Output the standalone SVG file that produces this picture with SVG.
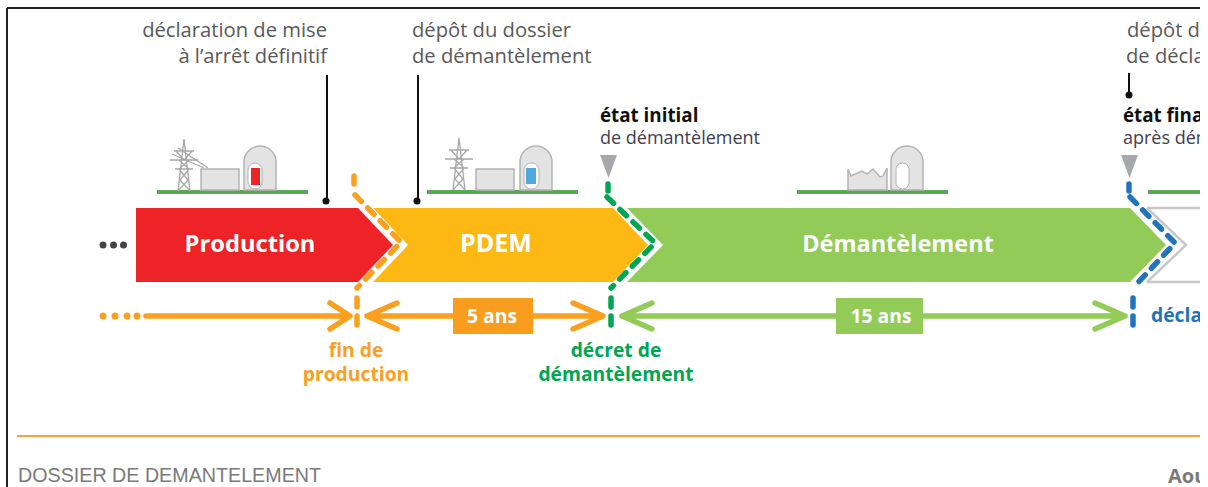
<svg xmlns="http://www.w3.org/2000/svg" width="1208" height="487" viewBox="0 0 1208 487">
<style>
text{font-family:"Open Sans","Noto Sans","Liberation Sans",sans-serif}
.t{font-size:20.200px;fill:#595959}
.b{font-size:18.800px;font-weight:700;fill:#111}
.s{font-size:18px;fill:#404050}
.w{font-weight:700;fill:#fff}
.g{stroke:#b4b4b4;stroke-width:1.5;fill:#e3e3e3}
.tw{stroke:#a8a8a8;stroke-width:1.3;fill:none}
.ground{fill:#57a957}
.lead{stroke:#111;stroke-width:2;fill:none}
.d{fill:none;stroke-width:5.5;stroke-linecap:round;stroke-linejoin:round;stroke-dasharray:9 9}
.a{fill:none;stroke-width:5.5;stroke-linecap:round;stroke-linejoin:round}
.l{font-size:19.300px;font-weight:700;text-anchor:middle}
</style>
<defs>
<clipPath id="page"><rect x="0" y="0" width="1200" height="487"/></clipPath>
<g id="tower" class="tw"><path d="M0 0L-6 52M0 0L6 52M-10 12H10M-14 21H14M-9 30H9M-5 30L4 41L-6 52M5 30L-4 41L6 52M-5 21L5 30M5 21L-5 30M-8 12L0 21L8 12"/></g>
<path id="dome" class="g" d="M0 44V16A16 16 0 0 1 32 16V44Z"/>
</defs>
<rect width="1208" height="487" fill="#fff"/>
<g clip-path="url(#page)">
<g id="frame">
<path d="M7 8H1200M7 8V487" stroke="#222" stroke-width="2" fill="none"/>
<path d="M17 436H1200" stroke="#f9a13a" stroke-width="2" fill="none"/>
</g>
<g id="node-production">
<path d="M136 208H358L393 245L358 282H136Z" fill="#ee2327"/>
<text x="250" y="252" class="w" font-size="23.700" text-anchor="middle">Production</text>
<circle cx="103" cy="245" r="3.500" fill="#444"/><circle cx="113.500" cy="245" r="3.500" fill="#444"/><circle cx="123.500" cy="245" r="3.500" fill="#444"/>
</g>
<g id="node-pdem">
<path d="M373 208H613L648 245L613 282H373L408 245Z" fill="#fdb813"/>
<text x="496" y="252" class="w" font-size="25" text-anchor="middle">PDEM</text>
</g>
<g id="node-demantelement">
<path d="M627 208H1130L1166 245L1130 282H627L663 245Z" fill="#92cb57"/>
<text x="898" y="252" class="w" font-size="23.500" text-anchor="middle">Démantèlement</text>
</g>
<g id="node-next">
<path d="M1147 208H1200M1147 282H1200M1147 208L1186 245L1147 282" fill="none" stroke="#c8c8c8" stroke-width="2.500"/>
</g>
<g id="icon-production">
<rect x="157" y="190" width="151" height="4" class="ground"/>
<use href="#tower" x="184" y="139"/>
<path d="M172 154L204 168M178 148L208 168" class="tw"/>
<rect x="201" y="169" width="38" height="21" class="g"/>
<use href="#dome" x="244" y="146"/>
<rect x="248" y="163" width="14" height="26" rx="7" fill="#fff" stroke="#b4b4b4"/>
<rect x="251" y="168" width="9" height="17" fill="#ee2327"/>
</g>
<g id="icon-pdem">
<rect x="427" y="190" width="151" height="4" class="ground"/>
<use href="#tower" x="459" y="138"/>
<rect x="476" y="169" width="38" height="21" class="g"/>
<use href="#dome" x="520" y="146"/>
<rect x="524" y="163" width="15" height="26" rx="7" fill="#fff" stroke="#b4b4b4"/>
<rect x="526" y="168" width="10" height="16" fill="#4fa8df"/>
</g>
<g id="icon-demantelement">
<rect x="797" y="190" width="151" height="4" class="ground"/>
<path class="g" d="M848 190V169L851 176L862 171L867 174L873 169L880 177L883 176L887 168V190Z"/>
<use href="#dome" x="891" y="146"/>
<rect x="896" y="163" width="13" height="26" rx="6.500" fill="#fff" stroke="#b4b4b4"/>
</g>
<g id="icon-next">
<rect x="1148" y="190" width="52" height="4" class="ground"/>
</g>
<g id="connectors">
<path class="lead" d="M327 75V200M418 75V200M1129 73V94"/>
<circle cx="326" cy="201" r="3.500" fill="#111"/><circle cx="417" cy="201" r="3.500" fill="#111"/><circle cx="1129" cy="95" r="3.500" fill="#111"/>
<path d="M600 155H617L608.500 178Z M1121 155H1138L1129.500 178Z" fill="#a6a8ab"/>
<path class="d" stroke="#f9a01f" d="M354 176V184M355 195L401 242L357 288M357 298V326"/>
<path class="d" stroke="#00a651" d="M608 184V191M607 197L655 243L611 288M611 298V325"/>
<path class="d" stroke="#1f74bb" d="M1129 184V191M1130 197L1175 243L1133 288M1133 298V325"/>
<g fill="#f9a01f"><circle cx="103" cy="316" r="3.500"/><circle cx="115" cy="316" r="3.500"/><circle cx="127" cy="316" r="3.500"/><circle cx="137" cy="316" r="3.500"/></g>
<path class="a" stroke="#f9a01f" d="M146 316H350M330 303L350 316L330 329"/>
<path class="a" stroke="#f9a01f" d="M367 316H603M397 303L367 316L397 329M573 303L603 316L573 329"/>
<path class="a" stroke="#92cb57" d="M622 316H1125M652 303L622 316L652 329M1095 303L1125 316L1095 329"/>
</g>
<g id="label-5ans"><rect x="453" y="298" width="80" height="36" fill="#f99d1f"/><text x="492" y="323" class="l" fill="#fff">5 ans</text></g>
<g id="label-15ans"><rect x="836" y="298" width="87" height="36" fill="#92cb57"/><text x="881" y="323" class="l" fill="#fff">15 ans</text></g>
<g id="labels">
<text x="327" y="37" class="t" text-anchor="end">déclaration de mise</text>
<text x="327" y="63" class="t" text-anchor="end">à l’arrêt définitif</text>
<text x="412" y="37" class="t">dépôt du dossier</text>
<text x="412" y="63" class="t">de démantèlement</text>
<text x="1127" y="37" class="t">dépôt d</text>
<text x="1126" y="63" class="t">de décla</text>
<text x="600" y="122" class="b">état initial</text>
<text x="600" y="144" class="s">de démantèlement</text>
<text x="1123" y="122" class="b">état fina</text>
<text x="1123" y="144" class="s">après dém</text>
<text x="356" y="357" class="l" fill="#f9a01f">fin de</text>
<text x="356" y="381" class="l" fill="#f9a01f">production</text>
<text x="616" y="357" class="l" fill="#00a651">décret de</text>
<text x="616" y="381" class="l" fill="#00a651">démantèlement</text>
<text x="1151" y="322" font-size="19.300" font-weight="700" fill="#1f74bb">décla</text>
<text x="18" y="482" font-size="19.700" fill="#7a7a7a" style="font-family:'Liberation Sans',sans-serif">DOSSIER DE DEMANTELEMENT</text>
<text x="1168" y="483" font-size="20" font-weight="700" fill="#7a7a7a">Aou</text>
</g>
</g>
</svg>
